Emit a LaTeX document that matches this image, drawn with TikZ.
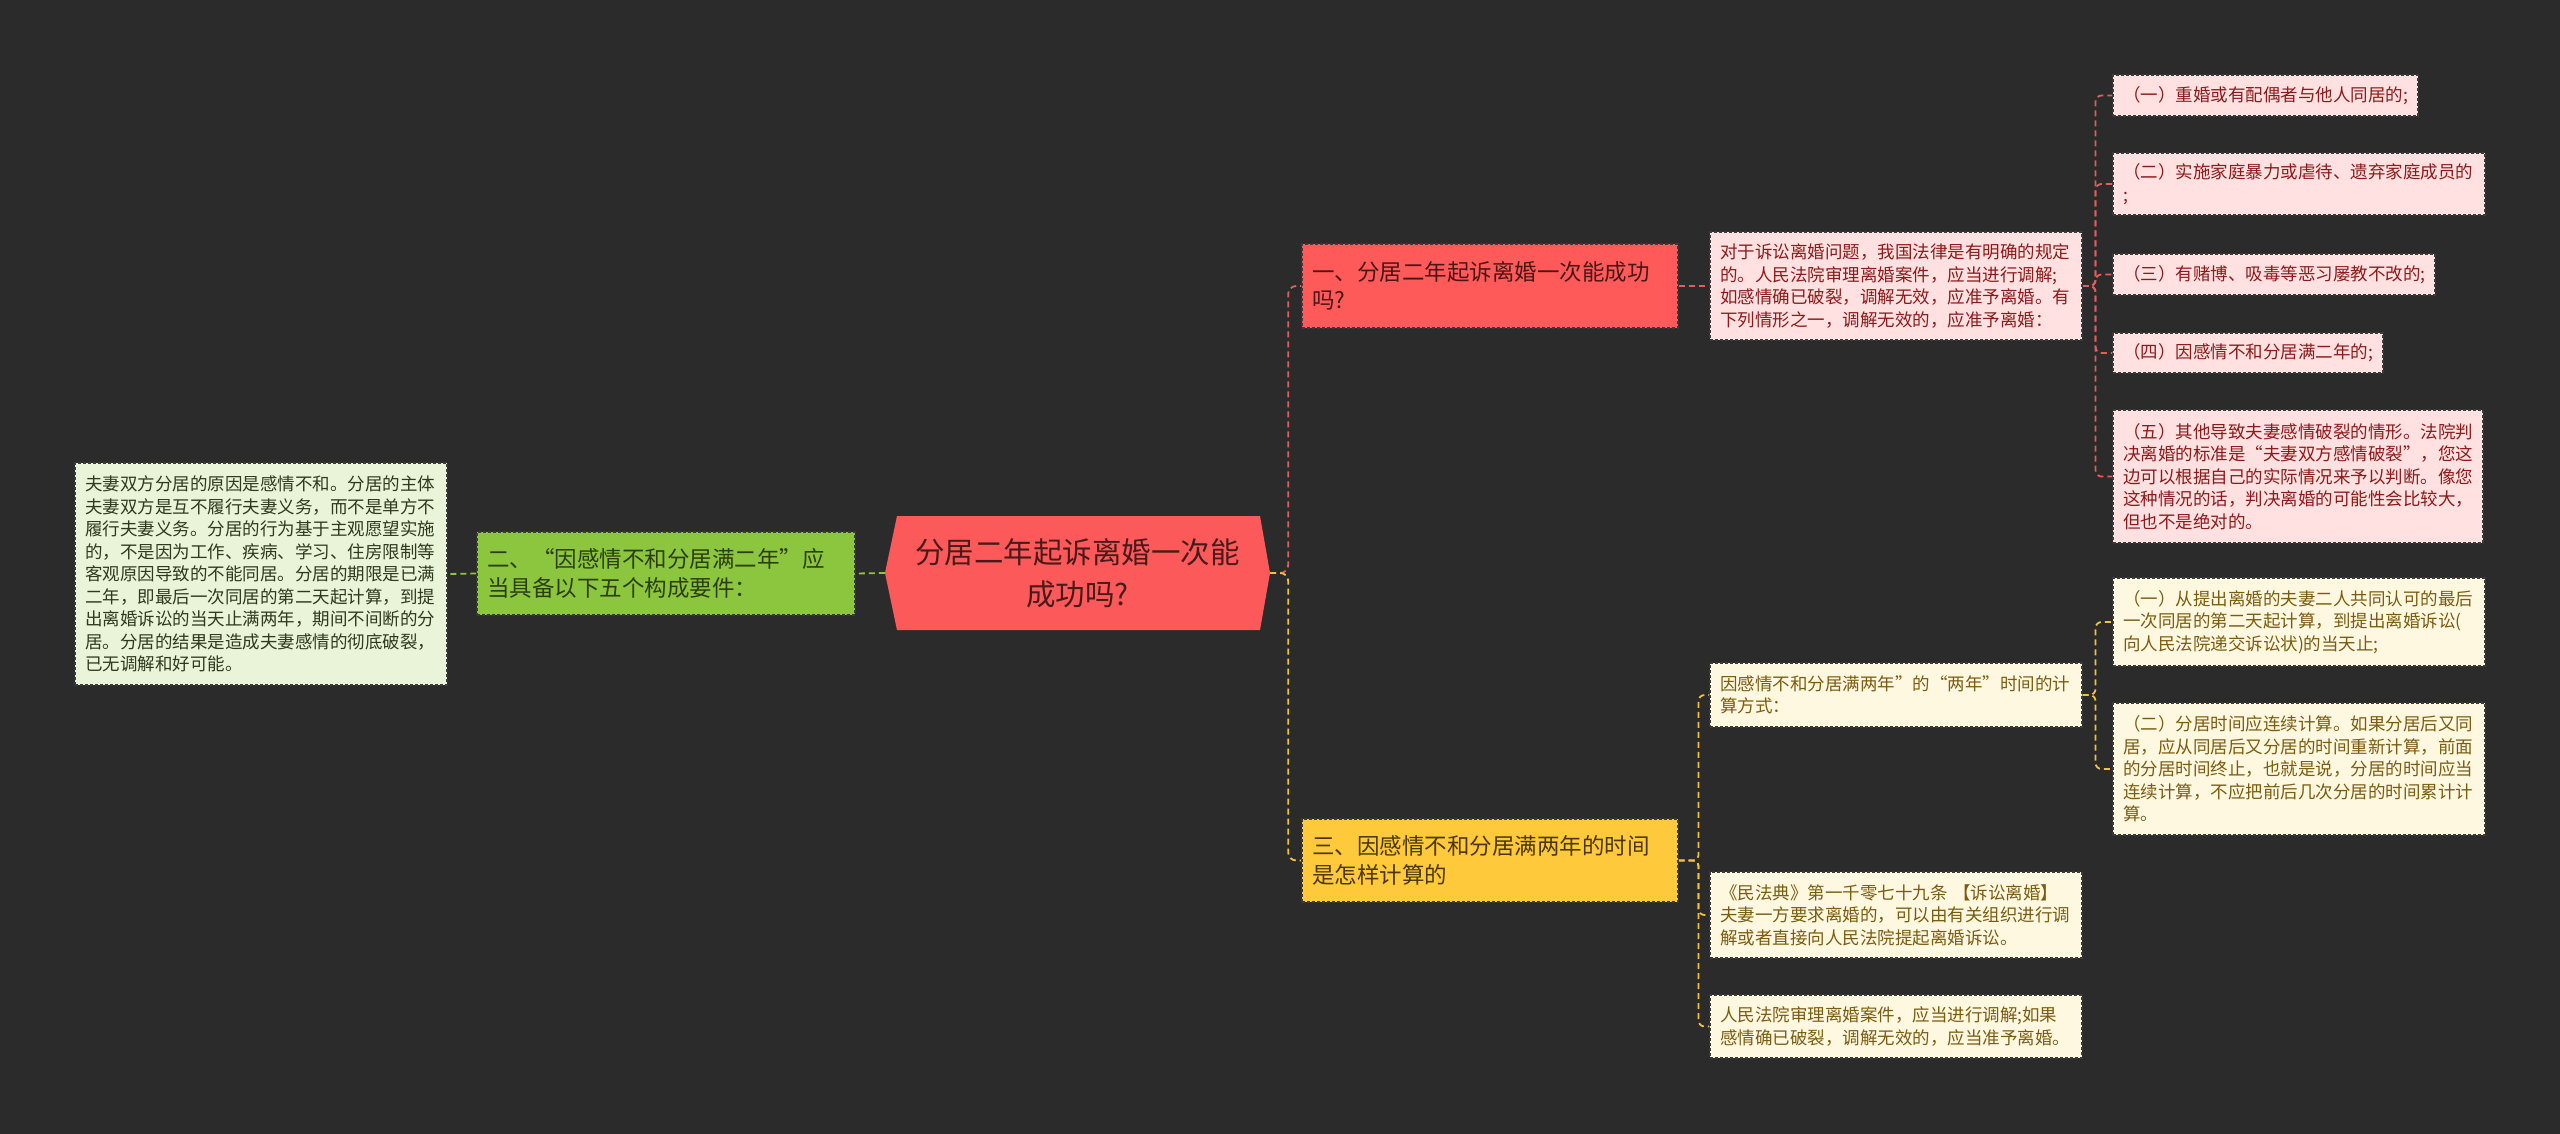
\documentclass[tikz,border=0pt]{standalone}
\usepackage{fontspec}
\setmainfont{Noto Sans CJK SC}
\definecolor{bgc}{HTML}{2B2B2B}
\definecolor{gline}{HTML}{8CC63F}
\definecolor{rline}{HTML}{E35D5D}
\definecolor{yline}{HTML}{F2C23E}
\definecolor{hexfill}{HTML}{FC5A5A}
\definecolor{hextext}{HTML}{4A1A1A}
\definecolor{redfill}{HTML}{FF5A5A}
\definecolor{redtext}{HTML}{4A1515}
\definecolor{greenfill}{HTML}{8CC63F}
\definecolor{greentext}{HTML}{2C3D0F}
\definecolor{lgfill}{HTML}{EAF4D9}
\definecolor{lgtext}{HTML}{2E3A1F}
\definecolor{pinkfill}{HTML}{FFE1E1}
\definecolor{pinktext}{HTML}{8B1A1A}
\definecolor{yfill}{HTML}{FFC93C}
\definecolor{ytext}{HTML}{4A3800}
\definecolor{lyfill}{HTML}{FFF8E1}
\definecolor{lytext}{HTML}{7A5C10}
\definecolor{bord}{HTML}{3A3A3A}
\pgfdeclarelayer{back}
\pgfdeclarelayer{lines}
\pgfsetlayers{back,lines,main}
\begin{document}
\begin{tikzpicture}[x=1pt,y=-1pt,
  box/.style={rectangle, draw=bord, dash pattern=on 3pt off 2pt, line width=1.1pt,
    inner xsep=10pt, inner ysep=3pt, align=left, anchor=center},
  small/.style={font=\fontsize{17.5}{22.5}\selectfont},
  big/.style={font=\fontsize{22.5}{28.5}\selectfont},
  lgbox/.style={box, small, fill=lgfill, text=lgtext},
  greenbox/.style={box, big, fill=greenfill, text=greentext},
  redbox/.style={box, big, fill=redfill, text=redtext},
  ybox/.style={box, big, fill=yfill, text=ytext},
  pinkbox/.style={box, small, fill=pinkfill, text=pinktext},
  lybox/.style={box, small, fill=lyfill, text=lytext},
  sz/.style n args={2}{minimum width=#1pt, text width=#1pt-20pt, minimum height=#2pt},
  conn/.style={line width=1.8pt, dash pattern=on 6pt off 4pt},
  gl/.style={conn, draw=gline},
  rl/.style={conn, draw=rline, rounded corners=8pt},
  yl/.style={conn, draw=yline, rounded corners=8pt},
  centertext/.style={rectangle, minimum width=385pt, minimum height=114pt, align=center,
    text=hextext, font=\fontsize{29.5}{42}\selectfont, inner sep=0pt}
]
\begin{pgfonlayer}{back}
\fill[bgc] (0,0) rectangle (2560,1134);
\end{pgfonlayer}
\useasboundingbox (0,0) rectangle (2560,1134);

% central hexagon
\fill[hexfill] (885,573) -- (897,516) -- (1260,516) -- (1270,573) -- (1260,630) -- (897,630) -- cycle;
\node[centertext] (c) at (1077.5,573) {分居二年起诉离婚一次能\\成功吗?};

% left side
\node[greenbox, sz={378}{83}] (G) at (666,573.5) {二、“因感情不和分居满二年”应\\当具备以下五个构成要件：};
\node[lgbox, sz={372}{222}] (L) at (261,574) {夫妻双方分居的原因是感情不和。分居的主体\\夫妻双方是互不履行夫妻义务，而不是单方不\\履行夫妻义务。分居的行为基于主观愿望实施\\的，不是因为工作、疾病、学习、住房限制等\\客观原因导致的不能同居。分居的期限是已满\\二年，即最后一次同居的第二天起计算，到提\\出离婚诉讼的当天止满两年，期间不间断的分\\居。分居的结果是造成夫妻感情的彻底破裂，\\已无调解和好可能。};

% right upper branch
\node[redbox, sz={376}{84}] (R1) at (1490,286) {一、分居二年起诉离婚一次能成功\\吗?};
\node[pinkbox, sz={372}{108}] (P) at (1896,286) {对于诉讼离婚问题，我国法律是有明确的规定\\的。人民法院审理离婚案件，应当进行调解;\\如感情确已破裂，调解无效，应准予离婚。有\\下列情形之一，调解无效的，应准予离婚：};
\node[pinkbox, sz={305}{41}] (i1) at (2265.5,95.5) {（一）重婚或有配偶者与他人同居的;};
\node[pinkbox, sz={372}{62}] (i2) at (2299,184) {（二）实施家庭暴力或虐待、遗弃家庭成员的\\;};
\node[pinkbox, sz={322}{41}] (i3) at (2274,274.5) {（三）有赌博、吸毒等恶习屡教不改的;};
\node[pinkbox, sz={270}{40}] (i4) at (2248,353) {（四）因感情不和分居满二年的;};
\node[pinkbox, sz={370}{133}] (i5) at (2298,476.5) {（五）其他导致夫妻感情破裂的情形。法院判\\决离婚的标准是“夫妻双方感情破裂”，您这\\边可以根据自己的实际情况来予以判断。像您\\这种情况的话，判决离婚的可能性会比较大，\\但也不是绝对的。};

% right lower branch
\node[ybox, sz={376}{83}] (Y3) at (1490,860.5) {三、因感情不和分居满两年的时间\\是怎样计算的};
\node[lybox, sz={372}{64}] (YD) at (1896,695) {因感情不和分居满两年”的“两年”时间的计\\算方式：};
\node[lybox, sz={372}{88}] (y1) at (2299,622) {（一）从提出离婚的夫妻二人共同认可的最后\\一次同居的第二天起计算，到提出离婚诉讼(\\向人民法院递交诉讼状)的当天止;};
\node[lybox, sz={372}{132}] (y2) at (2299,769) {（二）分居时间应连续计算。如果分居后又同\\居，应从同居后又分居的时间重新计算，前面\\的分居时间终止，也就是说，分居的时间应当\\连续计算，不应把前后几次分居的时间累计计\\算。};
\node[lybox, sz={372}{86}] (M) at (1896,915) {《民法典》第一千零七十九条~【诉讼离婚】\\夫妻一方要求离婚的，可以由有关组织进行调\\解或者直接向人民法院提起离婚诉讼。};
\node[lybox, sz={372}{63}] (N) at (1896,1026.5) {人民法院审理离婚案件，应当进行调解;如果\\感情确已破裂，调解无效的，应当准予离婚。};

\begin{pgfonlayer}{lines}
\draw[gl] (c.west) -- (G.east);
\draw[gl] (G.west) -- (L.east);
\draw[rl] (c.east) -- ++(18,0) |- (R1.west);
\draw[yl] (c.east) -- ++(18,0) |- (Y3.west);
\draw[rl] (R1.east) -- (P.west);
\foreach \t in {i1,i2,i3,i4,i5} \draw[rl, rounded corners=6pt] (P.east) -- ++(13,0) |- (\t.west);
\foreach \t in {YD,M,N} \draw[yl, rounded corners=6pt] (Y3.east) -- ++(20,0) |- (\t.west);
\foreach \t in {y1,y2} \draw[yl, rounded corners=6pt] (YD.east) -- ++(13,0) |- (\t.west);
\end{pgfonlayer}
\end{tikzpicture}
\end{document}
